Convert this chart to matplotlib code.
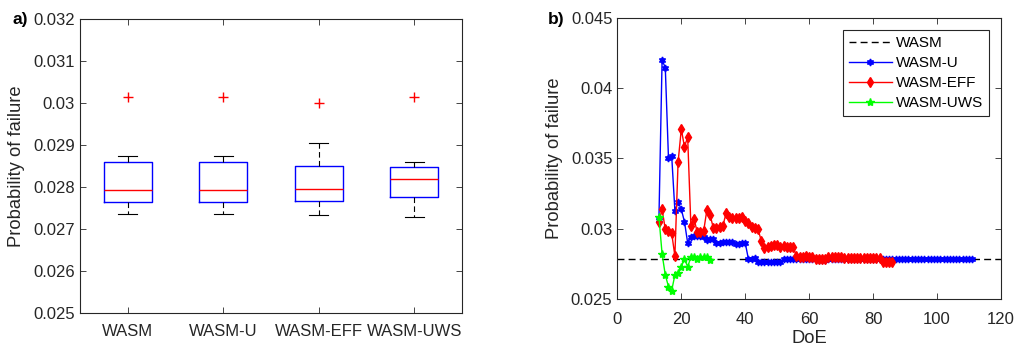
import matplotlib
matplotlib.use("Agg")
import matplotlib.pyplot as plt
from matplotlib.ticker import FuncFormatter

plt.rcParams['font.family'] = ['Liberation Sans', 'DejaVu Sans']

# ---- panel a) box plot summaries ----
methods = ['WASM', 'WASM-U', 'WASM-EFF', 'WASM-UWS']
medians = [0.02792, 0.02792, 0.02795, 0.02820]
q1 = [0.027635, 0.027635, 0.02767, 0.027754]
q3 = [0.02859, 0.02859, 0.02850, 0.02847]
whis_lo = [0.02735, 0.02735, 0.02734, 0.027278]
whis_hi = [0.02874, 0.02874, 0.02904, 0.02860]
outliers = [[0.030135], [0.030135], [0.02999], [0.03015]]

# ---- panel b) convergence with DoE ----
pf_ref = 0.02784

doe_u = list(range(13, 112))
pf_u = [0.0306, 0.0420, 0.04145, 0.0350, 0.0352, 0.0313, 0.0319, 0.0314, 0.0305, 0.0290,
        0.02945, 0.0295, 0.0295, 0.0295, 0.02945, 0.0292, 0.0293, 0.02925, 0.0290, 0.0290,
        0.0291, 0.0291, 0.0291, 0.0291, 0.0289, 0.0289, 0.0290, 0.0290, 0.02785, 0.02785,
        0.0279, 0.02768, 0.02768, 0.02768, 0.02768, 0.02768, 0.02768, 0.02768, 0.02768, 0.02785,
        0.02785, 0.02785, 0.02785, 0.02786, 0.02786, 0.02786, 0.02786, 0.02786, 0.02786, 0.02786,
        0.02778, 0.02778, 0.02778, 0.02786, 0.02786, 0.02786, 0.02786, 0.02786, 0.02786, 0.02786,
        0.02786, 0.02786, 0.02786, 0.02786, 0.02786, 0.02786, 0.02786, 0.02786, 0.02786, 0.02786,
        0.02786, 0.02786, 0.02786, 0.02786, 0.02786, 0.02786, 0.02786, 0.02786, 0.02786, 0.02786,
        0.02786, 0.02786, 0.02786, 0.02786, 0.02786, 0.02786, 0.02786, 0.02786, 0.02786, 0.02786,
        0.02786, 0.02786, 0.02786, 0.02786, 0.02786, 0.02786, 0.02786, 0.02786, 0.02786]

doe_eff = list(range(13, 87))
pf_eff = [0.03052, 0.03139, 0.02997, 0.02985, 0.02969, 0.02808, 0.03473, 0.03707, 0.03584, 0.03651,
          0.03023, 0.03071, 0.02976, 0.02980, 0.02985, 0.03134, 0.03099, 0.03009, 0.03004, 0.03016,
          0.03020, 0.03111, 0.03087, 0.03075, 0.03075, 0.03075, 0.03087, 0.03059, 0.03040, 0.03016,
          0.03004, 0.02997, 0.02917, 0.02862, 0.02869, 0.02879, 0.02886, 0.02886, 0.02874, 0.02879,
          0.02869, 0.02869, 0.02869, 0.02808, 0.02803, 0.02803, 0.02808, 0.02803, 0.02798, 0.02786,
          0.02784, 0.02784, 0.02786, 0.02798, 0.02798, 0.02798, 0.02803, 0.02803, 0.02793, 0.02791,
          0.02791, 0.02791, 0.02791, 0.02791, 0.02793, 0.02791, 0.02793, 0.02793, 0.02791, 0.02793,
          0.02765, 0.02763, 0.02763, 0.02765]

doe_uws = list(range(13, 30))
pf_uws = [0.03087, 0.02822, 0.02673, 0.02590, 0.02562, 0.02673, 0.02689, 0.02732, 0.02784, 0.02732,
          0.02798, 0.02803, 0.02786, 0.02798, 0.02798, 0.02803, 0.02780]

txt = '#262626'
fmt = FuncFormatter(lambda v, p: '%g' % round(v, 4))

fig = plt.figure(figsize=(10.16, 3.49), dpi=100)


def style_axes(ax):
    for s in ax.spines.values():
        s.set_color(txt)
        s.set_linewidth(0.8)
    ax.tick_params(direction='in', top=True, right=True, colors=txt,
                   labelsize=12, length=4, width=0.6)


# a) box plot
ax1 = fig.add_axes([0.0787, 0.1032, 0.376, 0.8424])
stats = []
for i in range(len(methods)):
    stats.append(dict(med=medians[i], q1=q1[i], q3=q3[i],
                      whislo=whis_lo[i], whishi=whis_hi[i],
                      fliers=outliers[i], label=methods[i]))
ax1.bxp(stats, widths=0.5, capwidths=0.2,
        boxprops=dict(color='blue', linewidth=1),
        medianprops=dict(color='red', linewidth=1),
        whiskerprops=dict(color='black', linewidth=0.8, linestyle=(0, (5, 3))),
        capprops=dict(color='black', linewidth=0.8),
        flierprops=dict(marker='+', markeredgecolor='red', markersize=7, linestyle='none'))
ax1.set_xlim(0.5, 4.5)
ax1.set_ylim(0.025, 0.032)
ax1.yaxis.set_major_formatter(fmt)
style_axes(ax1)
ax1.tick_params(axis='x', pad=8)
ax1.set_ylabel('Probability of failure', fontsize=13.2, color=txt, labelpad=6)
fig.text(0.012, 0.93, 'a)', fontsize=12.5, fontweight='bold', color='black')

# b) convergence curves
ax2 = fig.add_axes([0.6076, 0.1424, 0.3777, 0.807])
ax2.axhline(pf_ref, color='black', linestyle=(0, (5, 3)), linewidth=1, label='WASM')
ax2.plot(doe_u, pf_u, color='blue', linewidth=1, marker=(6, 1, 0), markersize=5, label='WASM-U')
ax2.plot(doe_eff, pf_eff, color='red', linewidth=1, marker='d', markersize=5, label='WASM-EFF')
ax2.plot(doe_uws, pf_uws, color=(0, 1, 0), linewidth=1, marker='*', markersize=6, label='WASM-UWS')
ax2.set_xlim(0, 120)
ax2.set_ylim(0.025, 0.045)
ax2.set_yticks([0.025, 0.03, 0.035, 0.04, 0.045])
ax2.yaxis.set_major_formatter(fmt)
style_axes(ax2)
ax2.tick_params(axis='x', pad=9)
ax2.set_xlabel('DoE', fontsize=13.2, color=txt, labelpad=2)
ax2.set_ylabel('Probability of failure', fontsize=13.2, color=txt, labelpad=6)
leg = ax2.legend(loc='upper right', fontsize=11, fancybox=False, framealpha=1,
                 edgecolor='#262626', handlelength=2.8, borderpad=0.4,
                 labelspacing=0.4, handletextpad=0.25, borderaxespad=0.8)
leg.get_frame().set_linewidth(0.8)
fig.text(0.539, 0.93, 'b)', fontsize=12.5, fontweight='bold', color='black')

fig.savefig('out.png', dpi=100)
